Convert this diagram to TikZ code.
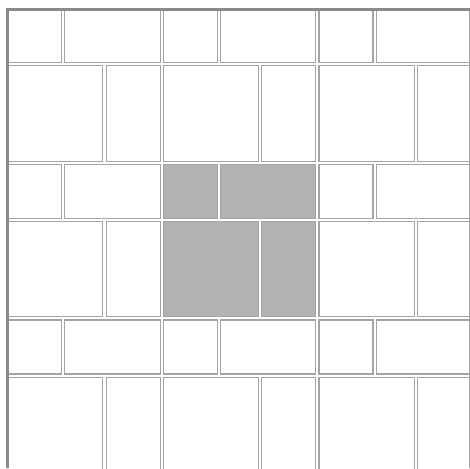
\documentclass[tikz,border=0pt]{standalone}
\usepackage{tikz}
\definecolor{tileedge}{HTML}{A4A4A4}
\definecolor{tilegray}{HTML}{B3B3B3}
\definecolor{frameline}{HTML}{8A8A8A}
\tikzset{
  tile/.style={draw=tileedge,line width=1.1pt},
  frameedge/.style={draw=frameline,line width=2.6pt}
}

\begin{document}
\begin{tikzpicture}[x=1pt,y=-1pt]
\useasboundingbox (0,0) rectangle (470,468);
% tiling, cut off at the right and bottom
\begin{scope}
\clip (7.5,9.5) rectangle (469.3,468);
\foreach \bx in {0,1,2}{
  \foreach \by in {0,1,2}{
    \def\tilecol{white}
    \ifnum\bx=1 \ifnum\by=1 \def\tilecol{tilegray}\fi\fi
    \begin{scope}[shift={(7.6+155.7*\bx,8.6+155.7*\by)}]
      \draw[tile,fill=\tilecol] (0,0) rectangle (54,54);
      \draw[tile,fill=\tilecol] (57.3,0) rectangle (152.6,54);
      \draw[tile,fill=\tilecol] (0,57.3) rectangle (95.3,152.6);
      \draw[tile,fill=\tilecol] (98.6,57.3) rectangle (152.6,152.6);
    \end{scope}
  }
}
\end{scope}
\draw[tile] (469.3,9.5) -- (469.3,468);
\draw[frameedge] (7.5,468) |- (470,9.5);
\end{tikzpicture}
\end{document}
